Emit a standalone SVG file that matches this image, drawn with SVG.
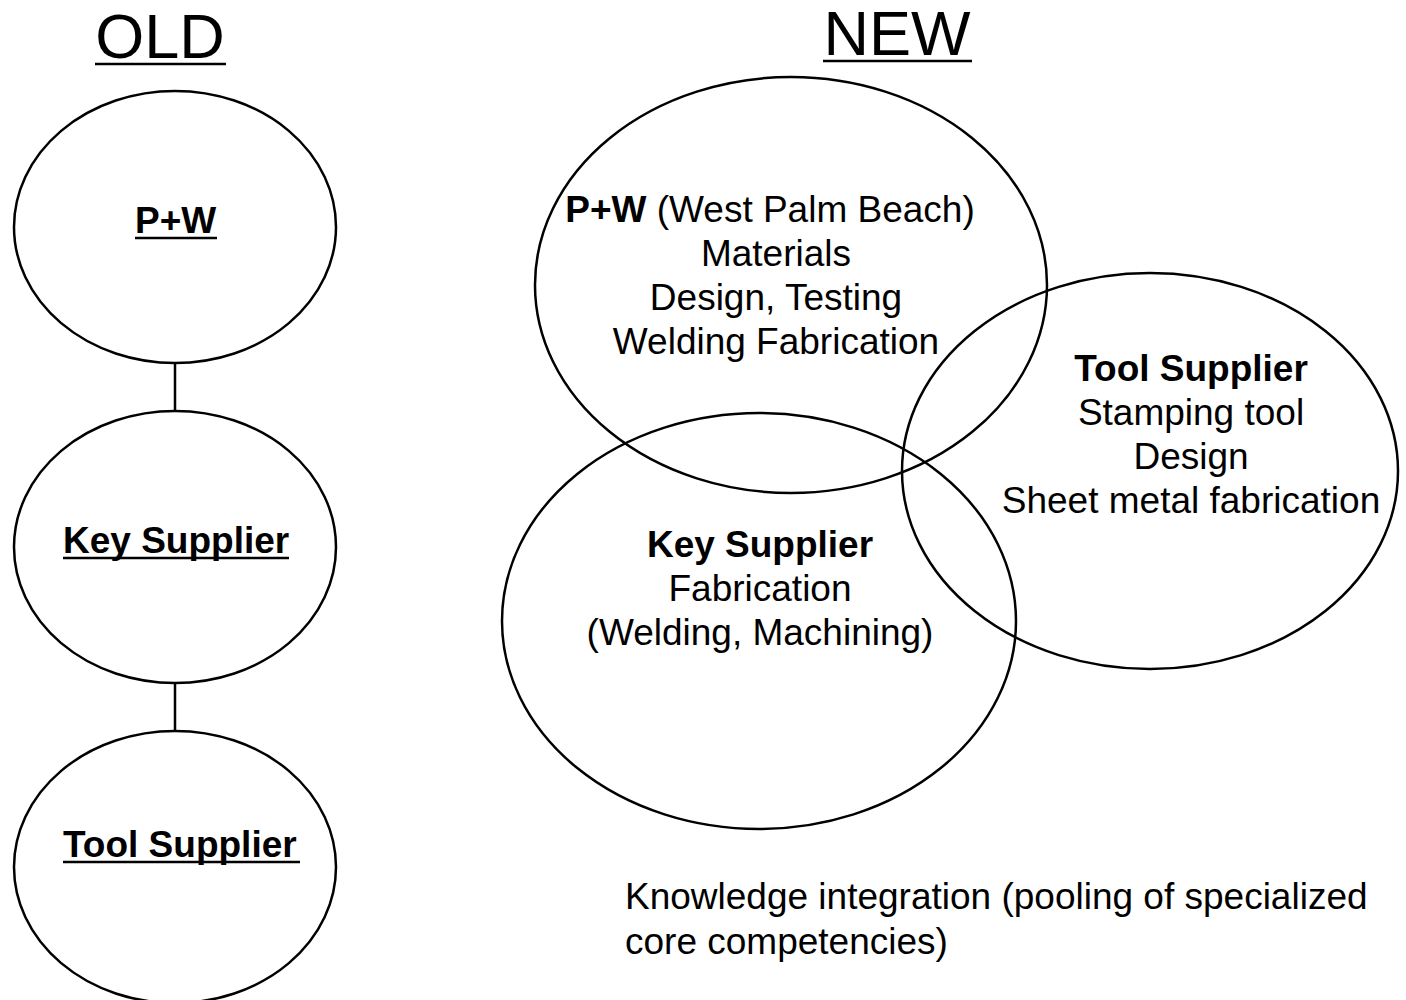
<svg xmlns="http://www.w3.org/2000/svg" width="1406" height="1000" viewBox="0 0 1406 1000" font-family="'Liberation Sans', Arimo, Arial, Helvetica, sans-serif">
  <style>
    .shape { fill: none; stroke: #000; stroke-width: 2.5; }
    .link { stroke: #000; stroke-width: 2.5; }
    .rule { stroke: #000; stroke-width: 2.5; }
    text { fill: #000; }
    .title { font-size: 63px; text-anchor: middle; }
    .label { font-size: 37px; }
    .mid { text-anchor: middle; }
    .b { font-weight: bold; }
  </style>
  <rect width="1406" height="1000" fill="#fff"/>

  <!-- section headings -->
  <g id="heading-old">
    <text class="title" x="160" y="58">OLD</text>
    <line class="rule" x1="95" y1="64" x2="226" y2="64"/>
  </g>
  <g id="heading-new">
    <text class="title" x="897" y="55">NEW</text>
    <line class="rule" x1="823" y1="61" x2="972" y2="61"/>
  </g>

  <!-- old chain connectors -->
  <g id="connectors">
    <line class="link" x1="175" y1="363" x2="175" y2="411"/>
    <line class="link" x1="175" y1="683" x2="175" y2="731"/>
  </g>

  <!-- old chain -->
  <g id="old-pw">
    <ellipse class="shape" cx="175" cy="227" rx="161" ry="136"/>
    <text class="label b" x="135" y="233">P+W</text>
    <line class="rule" x1="135" y1="238" x2="217" y2="238"/>
  </g>
  <g id="old-key-supplier">
    <ellipse class="shape" cx="175" cy="547" rx="161" ry="136"/>
    <text class="label b" x="63" y="553">Key Supplier</text>
    <line class="rule" x1="63" y1="558" x2="289" y2="558"/>
  </g>
  <g id="old-tool-supplier">
    <ellipse class="shape" cx="175" cy="867" rx="161" ry="136"/>
    <text class="label b" x="63" y="857">Tool Supplier</text>
    <line class="rule" x1="63" y1="862" x2="300" y2="862"/>
  </g>

  <!-- new overlapping network -->
  <g id="new-pw">
    <ellipse class="shape" cx="791" cy="285" rx="256" ry="208"/>
    <text class="label mid" x="770" y="222"><tspan class="b">P+W</tspan> (West Palm Beach)</text>
    <text class="label mid" x="776" y="266">Materials</text>
    <text class="label mid" x="776" y="310">Design, Testing</text>
    <text class="label mid" x="776" y="354">Welding Fabrication</text>
  </g>
  <g id="new-key-supplier">
    <ellipse class="shape" cx="759" cy="621" rx="257" ry="208"/>
    <text class="label mid b" x="760" y="557">Key Supplier</text>
    <text class="label mid" x="760" y="601">Fabrication</text>
    <text class="label mid" x="760" y="645">(Welding, Machining)</text>
  </g>
  <g id="new-tool-supplier">
    <ellipse class="shape" cx="1150" cy="471" rx="248" ry="198"/>
    <text class="label mid b" x="1191" y="381">Tool Supplier</text>
    <text class="label mid" x="1191" y="425">Stamping tool</text>
    <text class="label mid" x="1191" y="469">Design</text>
    <text class="label mid" x="1191" y="513">Sheet metal fabrication</text>
  </g>

  <!-- caption -->
  <g id="caption">
    <text class="label" x="625" y="909">Knowledge integration (pooling of specialized</text>
    <text class="label" x="625" y="954">core competencies)</text>
  </g>
</svg>
